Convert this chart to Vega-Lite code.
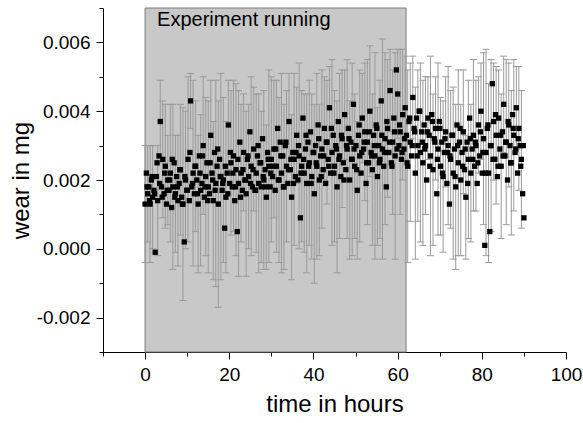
{
"$schema": "https://vega.github.io/schema/vega-lite/v6.json",
"width": 463, "height": 344,
"autosize": "none",
"padding": {"left": 103, "top": 8, "right": 17, "bottom": 71},
"background": "white",
"config": {"view": {"stroke": null}, "font": "Liberation Sans"},
"datasets": {
"band": [{"t": 0, "t2": 62, "w": -0.003, "w2": 0.007}],
"lab": [{"t": 2.85, "w": 0.00666, "label": "Experiment running"}],
"pts": [
{"t":0,"w":0.0013,"lo":-0.0004,"hi":0.003},{"t":0.3,"w":0.0022},{"t":0.6,"w":0.0016,"lo":0.0002,"hi":0.003},{"t":0.9,"w":0.0018},{"t":1.2,"w":0.0013,"lo":-0.0004,"hi":0.003},{"t":1.5,"w":0.002},{"t":1.8,"w":0.0015,"lo":0,"hi":0.003},{"t":2.1,"w":0.0017},{"t":2.4,"w":-0.0001},{"t":2.7,"w":0.0021},
{"t":3,"w":0.0014,"lo":-0.0002,"hi":0.003},{"t":3.3,"w":0.0027},{"t":3.6,"w":0.0037,"lo":0.0025,"hi":0.0049},{"t":3.9,"w":0.0018},{"t":4.2,"w":0.0026,"lo":0.0009,"hi":0.0043},{"t":4.5,"w":0.0016},{"t":4.8,"w":0.0024,"lo":0.0006,"hi":0.0042},{"t":5.1,"w":0.0013},{"t":5.4,"w":0.002,"lo":0.0007,"hi":0.0033},{"t":5.7,"w":0.0017},
{"t":6,"w":0.0022,"lo":0.0002,"hi":0.0042},{"t":6.3,"w":0.0012},{"t":6.6,"w":0.0018,"lo":-0.0006,"hi":0.0042},{"t":6.9,"w":0.0025},{"t":7.2,"w":0.0016,"lo":-0.0001,"hi":0.0033},{"t":7.5,"w":0.0021},{"t":7.8,"w":0.0014,"lo":-0.0005,"hi":0.0033},{"t":8.1,"w":0.0019},{"t":8.4,"w":0.0023,"lo":0.0004,"hi":0.0042},{"t":8.7,"w":0.0015},
{"t":9,"w":0.0013,"lo":-0.0015,"hi":0.0041},{"t":9.3,"w":0.0002},{"t":9.6,"w":0.002,"lo":0,"hi":0.004},{"t":9.9,"w":0.0017},{"t":10.2,"w":0.0026,"lo":0.0002,"hi":0.005},{"t":10.5,"w":0.0014},{"t":10.8,"w":0.0043,"lo":0.0035,"hi":0.0051},{"t":11.1,"w":0.0018},{"t":11.4,"w":0.0022,"lo":-0.0005,"hi":0.0049},{"t":11.7,"w":0.0016},
{"t":12,"w":0.0024,"lo":0.0005,"hi":0.0043},{"t":12.3,"w":0.002},{"t":12.6,"w":0.0013,"lo":-0.0007,"hi":0.0033},{"t":12.9,"w":0.0027},{"t":13.2,"w":0.0017,"lo":-0.0005,"hi":0.0039},{"t":13.5,"w":0.0019},{"t":13.8,"w":0.003,"lo":0.001,"hi":0.005},{"t":14.1,"w":0.0015},{"t":14.4,"w":0.0021,"lo":-0.0002,"hi":0.0044},{"t":14.7,"w":0.0025},
{"t":15,"w":0.0018,"lo":-0.0007,"hi":0.0043},{"t":15.3,"w":0.0016},{"t":15.6,"w":0.0033,"lo":0.0017,"hi":0.0049},{"t":15.9,"w":0.0022},{"t":16.2,"w":0.0014,"lo":-0.0009,"hi":0.0037},{"t":16.5,"w":0.0028},{"t":16.8,"w":0.0019,"lo":-0.0011,"hi":0.0049},{"t":17.1,"w":0.0024},{"t":17.4,"w":0.0013,"lo":-0.0017,"hi":0.0043},{"t":17.7,"w":0.0026},
{"t":18,"w":0.0021,"lo":-0.0009,"hi":0.0051},{"t":18.3,"w":0.0017},{"t":18.6,"w":0.002,"lo":-0.0004,"hi":0.0044},{"t":18.9,"w":0.0006},{"t":19.2,"w":0.0015,"lo":-0.0007,"hi":0.0037},{"t":19.5,"w":0.0022},{"t":19.8,"w":0.0036,"lo":0.0023,"hi":0.0049},{"t":20.1,"w":0.0019},{"t":20.4,"w":0.0025,"lo":0.0004,"hi":0.0046},{"t":20.7,"w":0.0018},
{"t":21,"w":0.0027,"lo":0.0005,"hi":0.0049},{"t":21.3,"w":0.0014},{"t":21.6,"w":0.0023,"lo":-0.0002,"hi":0.0048},{"t":21.9,"w":0.0005},{"t":22.2,"w":0.0019,"lo":-0.0008,"hi":0.0046},{"t":22.5,"w":0.0031},{"t":22.8,"w":0.0022,"lo":0.0002,"hi":0.0042},{"t":23.1,"w":0.0017},{"t":23.4,"w":0.0028,"lo":0.0011,"hi":0.0045},{"t":23.7,"w":0.002},
{"t":24,"w":0.0016,"lo":-0.0008,"hi":0.004},{"t":24.3,"w":0.0026},{"t":24.6,"w":0.0021,"lo":0,"hi":0.0042},{"t":24.9,"w":0.0034},{"t":25.2,"w":0.0024,"lo":-0.0002,"hi":0.005},{"t":25.5,"w":0.0018},{"t":25.8,"w":0.0029,"lo":0.0011,"hi":0.0047},{"t":26.1,"w":0.0017},{"t":26.4,"w":0.0022,"lo":-0.0001,"hi":0.0045},{"t":26.7,"w":0.0027},
{"t":27,"w":0.0019,"lo":-0.0007,"hi":0.0045},{"t":27.3,"w":0.0025},{"t":27.6,"w":0.0018,"lo":-0.0004,"hi":0.004},{"t":27.9,"w":0.0032},{"t":28.2,"w":0.002,"lo":-0.0006,"hi":0.0046},{"t":28.5,"w":0.0023},{"t":28.8,"w":0.0015,"lo":-0.0006,"hi":0.0036},{"t":29.1,"w":0.0028},{"t":29.4,"w":0.0024,"lo":-0.0004,"hi":0.0052},{"t":29.7,"w":0.0018},
{"t":30,"w":0.0026,"lo":0.0002,"hi":0.005},{"t":30.3,"w":0.0021},{"t":30.6,"w":0.0029,"lo":0.0009,"hi":0.0049},{"t":30.9,"w":0.0017},{"t":31.2,"w":0.0024,"lo":-0.0001,"hi":0.0049},{"t":31.5,"w":0.0035},{"t":31.8,"w":0.002,"lo":-0.0004,"hi":0.0044},{"t":32.1,"w":0.0031},{"t":32.4,"w":0.0022,"lo":-0.0007,"hi":0.0051},{"t":32.7,"w":0.0027},
{"t":33,"w":0.0018,"lo":-0.0006,"hi":0.0042},{"t":33.3,"w":0.003},{"t":33.6,"w":0.0024,"lo":0.0002,"hi":0.0046},{"t":33.9,"w":0.0019},{"t":34.2,"w":0.0037,"lo":0.0023,"hi":0.0051},{"t":34.5,"w":0.0023},{"t":34.8,"w":0.0015,"lo":-0.0009,"hi":0.0039},{"t":35.1,"w":0.0028},{"t":35.4,"w":0.0026,"lo":0.0001,"hi":0.0051},{"t":35.7,"w":0.0021},
{"t":36,"w":0.0033,"lo":0.0019,"hi":0.0047},{"t":36.3,"w":0.002},{"t":36.6,"w":0.0027,"lo":0,"hi":0.0054},{"t":36.9,"w":0.0009},{"t":37.2,"w":0.0024,"lo":0.0002,"hi":0.0046},{"t":37.5,"w":0.0038},{"t":37.8,"w":0.0022,"lo":-0.0001,"hi":0.0045},{"t":38.1,"w":0.0029},{"t":38.4,"w":0.0019,"lo":-0.0007,"hi":0.0045},{"t":38.7,"w":0.0031},
{"t":39,"w":0.0025,"lo":0.0001,"hi":0.0049},{"t":39.3,"w":0.0034},{"t":39.6,"w":0.0021,"lo":-0.0003,"hi":0.0045},{"t":39.9,"w":0.0028},{"t":40.2,"w":0.0016,"lo":-0.001,"hi":0.0042},{"t":40.5,"w":0.003},{"t":40.8,"w":0.0024,"lo":-0.0003,"hi":0.0051},{"t":41.1,"w":0.0036},{"t":41.4,"w":0.002,"lo":-0.0002,"hi":0.0042},{"t":41.7,"w":0.0027},
{"t":42,"w":0.0029,"lo":0.0006,"hi":0.0052},{"t":42.3,"w":0.0023},{"t":42.6,"w":0.0035,"lo":0.002,"hi":0.005},{"t":42.9,"w":0.0019},{"t":43.2,"w":0.0031,"lo":0.0013,"hi":0.0049},{"t":43.5,"w":0.0026},{"t":43.8,"w":0.0041,"lo":0.0029,"hi":0.0053},{"t":44.1,"w":0.0022},{"t":44.4,"w":0.0028,"lo":0.0001,"hi":0.0055},{"t":44.7,"w":0.0033},
{"t":45,"w":0.0024,"lo":0.0002,"hi":0.0046},{"t":45.3,"w":0.003},{"t":45.6,"w":0.0018,"lo":-0.0007,"hi":0.0043},{"t":45.9,"w":0.0037},{"t":46.2,"w":0.0027,"lo":0.0003,"hi":0.0051},{"t":46.5,"w":0.0021},{"t":46.8,"w":0.0032,"lo":0.0012,"hi":0.0052},{"t":47.1,"w":0.0025},{"t":47.4,"w":0.0039,"lo":0.0026,"hi":0.0052},{"t":47.7,"w":0.0023},
{"t":48,"w":0.0029,"lo":0.0003,"hi":0.0055},{"t":48.3,"w":0.0035},{"t":48.6,"w":0.002,"lo":-0.0003,"hi":0.0043},{"t":48.9,"w":0.0031},{"t":49.2,"w":0.0026,"lo":-0.0002,"hi":0.0054},{"t":49.5,"w":0.0042},{"t":49.8,"w":0.0024,"lo":0.0003,"hi":0.0045},{"t":50.1,"w":0.003},{"t":50.4,"w":0.0017,"lo":-0.0003,"hi":0.0037},{"t":50.7,"w":0.0033},
{"t":51,"w":0.0027,"lo":0.0002,"hi":0.0052},{"t":51.3,"w":0.0022},{"t":51.6,"w":0.0038,"lo":0.0025,"hi":0.0051},{"t":51.9,"w":0.0029},{"t":52.2,"w":0.0034,"lo":0.0014,"hi":0.0054},{"t":52.5,"w":0.0019},{"t":52.8,"w":0.0031,"lo":0.0007,"hi":0.0055},{"t":53.1,"w":0.0025},{"t":53.4,"w":0.004,"lo":0.0021,"hi":0.0059},{"t":53.7,"w":0.0028},
{"t":54,"w":0.0023,"lo":0.0001,"hi":0.0045},{"t":54.3,"w":0.0033},{"t":54.6,"w":0.0027,"lo":-0.0003,"hi":0.0057},{"t":54.9,"w":0.0036},{"t":55.2,"w":0.0021,"lo":0.0001,"hi":0.0041},{"t":55.5,"w":0.003},{"t":55.8,"w":0.0026,"lo":0.0003,"hi":0.0049},{"t":56.1,"w":0.0043},{"t":56.4,"w":0.0029,"lo":-0.0003,"hi":0.0061},{"t":56.7,"w":0.0024},
{"t":57,"w":0.0032,"lo":0.0007,"hi":0.0057},{"t":57.3,"w":0.0018},{"t":57.6,"w":0.0035,"lo":0.0015,"hi":0.0055},{"t":57.9,"w":0.0028},{"t":58.2,"w":0.0046,"lo":0.0034,"hi":0.0058},{"t":58.5,"w":0.0025},{"t":58.8,"w":0.0031,"lo":0.001,"hi":0.0052},{"t":59.1,"w":0.0038},{"t":59.4,"w":0.0027,"lo":-0.0003,"hi":0.0057},{"t":59.7,"w":0.0052},
{"t":60,"w":0.0045,"lo":0.0032,"hi":0.0058},{"t":60.3,"w":0.003},{"t":60.6,"w":0.0034,"lo":0.001,"hi":0.0058},{"t":60.9,"w":0.0026},{"t":61.2,"w":0.0039,"lo":0.002,"hi":0.0058},{"t":61.5,"w":0.0029},{"t":61.8,"w":0.0041,"lo":0.0026,"hi":0.0056},{"t":62.1,"w":0.0033},{"t":62.4,"w":0.0024,"lo":-0.0004,"hi":0.0052},{"t":62.7,"w":0.0037},
{"t":63,"w":0.0031,"lo":0.0008,"hi":0.0054},{"t":63.3,"w":0.0027},{"t":63.6,"w":0.0044,"lo":0.0032,"hi":0.0056},{"t":63.9,"w":0.0035},{"t":64.2,"w":0.0022,"lo":-0.0003,"hi":0.0047},{"t":64.5,"w":0.0038},{"t":64.8,"w":0.003,"lo":0.0008,"hi":0.0052},{"t":65.1,"w":0.004},{"t":65.4,"w":0.0028,"lo":0.0002,"hi":0.0054},{"t":65.7,"w":0.0034},
{"t":66,"w":0.0025,"lo":0.0001,"hi":0.0049},{"t":66.3,"w":0.0036},{"t":66.6,"w":0.003,"lo":0.001,"hi":0.005},{"t":66.9,"w":0.002},{"t":67.2,"w":0.0038,"lo":0.0026,"hi":0.005},{"t":67.5,"w":0.0033},{"t":67.8,"w":0.0027,"lo":-0.0002,"hi":0.0056},{"t":68.1,"w":0.0039},{"t":68.4,"w":0.0023,"lo":0.0001,"hi":0.0045},{"t":68.7,"w":0.0032},
{"t":69,"w":0.0035,"lo":0.002,"hi":0.005},{"t":69.3,"w":0.0016},{"t":69.6,"w":0.0029,"lo":0.0004,"hi":0.0054},{"t":69.9,"w":0.0037},{"t":70.2,"w":0.0024,"lo":0.0004,"hi":0.0044},{"t":70.5,"w":0.0031},{"t":70.8,"w":0.0021,"lo":-0.0001,"hi":0.0043},{"t":71.1,"w":0.0028},{"t":71.4,"w":0.0034,"lo":0.0018,"hi":0.005},{"t":71.7,"w":0.0019},
{"t":72,"w":0.003,"lo":0.0007,"hi":0.0053},{"t":72.3,"w":0.0013},{"t":72.6,"w":0.0026,"lo":0.0006,"hi":0.0046},{"t":72.9,"w":0.0033},{"t":73.2,"w":0.0022,"lo":-0.0003,"hi":0.0047},{"t":73.5,"w":0.0029},{"t":73.8,"w":0.0018,"lo":-0.0006,"hi":0.0042},{"t":74.1,"w":0.0036},{"t":74.4,"w":0.0025,"lo":-0.0002,"hi":0.0052},{"t":74.7,"w":0.0031},
{"t":75,"w":0.002,"lo":-0.0002,"hi":0.0042},{"t":75.3,"w":0.0028},{"t":75.6,"w":0.0034,"lo":0.0016,"hi":0.0052},{"t":75.9,"w":0.0023},{"t":76.2,"w":0.0015,"lo":-0.0003,"hi":0.0033},{"t":76.5,"w":0.0031},{"t":76.8,"w":0.0026,"lo":0.0003,"hi":0.0049},{"t":77.1,"w":0.0038},{"t":77.4,"w":0.0022,"lo":0.0002,"hi":0.0042},{"t":77.7,"w":0.0029},
{"t":78,"w":0.0033,"lo":0.0011,"hi":0.0055},{"t":78.3,"w":0.0024},{"t":78.6,"w":0.003,"lo":0.0011,"hi":0.0049},{"t":78.9,"w":0.0019},{"t":79.2,"w":0.0036,"lo":0.0022,"hi":0.005},{"t":79.5,"w":0.0027},{"t":79.8,"w":0.004,"lo":0.0026,"hi":0.0054},{"t":80.1,"w":0.0022},{"t":80.4,"w":0.0032,"lo":0.0007,"hi":0.0057},{"t":80.7,"w":0.0001},
{"t":81,"w":0.0028,"lo":-0.0002,"hi":0.0058},{"t":81.3,"w":0.0035},{"t":81.6,"w":0.0022,"lo":-0.0004,"hi":0.0048},{"t":81.9,"w":0.0005},{"t":82.2,"w":0.003,"lo":0.0005,"hi":0.0055},{"t":82.5,"w":0.0048},{"t":82.8,"w":0.0037,"lo":0.002,"hi":0.0054},{"t":83.1,"w":0.0026},{"t":83.4,"w":0.0033,"lo":0.0013,"hi":0.0053},{"t":83.7,"w":0.0021},
{"t":84,"w":0.0038,"lo":0.0024,"hi":0.0052},{"t":84.3,"w":0.0029},{"t":84.6,"w":0.0024,"lo":0.0003,"hi":0.0045},{"t":84.9,"w":0.0034},{"t":85.2,"w":0.0042,"lo":0.0028,"hi":0.0056},{"t":85.5,"w":0.0027},{"t":85.8,"w":0.0031,"lo":0.0007,"hi":0.0055},{"t":86.1,"w":0.002},{"t":86.4,"w":0.0036,"lo":0.0018,"hi":0.0054},{"t":86.7,"w":0.003},
{"t":87,"w":0.0025,"lo":0.0004,"hi":0.0046},{"t":87.3,"w":0.0039},{"t":87.6,"w":0.0033,"lo":0.0011,"hi":0.0055},{"t":87.9,"w":0.0028},{"t":88.2,"w":0.0041,"lo":0.0029,"hi":0.0053},{"t":88.5,"w":0.0022},{"t":88.8,"w":0.0035,"lo":0.0017,"hi":0.0053},{"t":89.1,"w":0.003},{"t":89.4,"w":0.0026,"lo":0.0006,"hi":0.0046},{"t":89.7,"w":0.0016},
{"t":90,"w":0.0009},
{"t":0.45,"w":0.0018},{"t":1.05,"w":0.0014},{"t":1.65,"w":0.0021},{"t":2.25,"w":0.0016},{"t":2.85,"w":0.0025},{"t":3.45,"w":0.0019},{"t":4.05,"w":0.0015},{"t":4.65,"w":0.0022},{"t":5.25,"w":0.0017},{"t":5.85,"w":0.002},
{"t":6.45,"w":0.0026},{"t":7.05,"w":0.0015},{"t":7.65,"w":0.0018},{"t":8.25,"w":0.0023},{"t":8.85,"w":0.0013},{"t":9.45,"w":0.0021},{"t":10.05,"w":0.0017},{"t":10.65,"w":0.0028},{"t":11.25,"w":0.0019},{"t":11.85,"w":0.0024},
{"t":12.45,"w":0.0016},{"t":13.05,"w":0.0022},{"t":13.65,"w":0.0027},{"t":14.25,"w":0.0018},{"t":14.85,"w":0.0014},{"t":15.45,"w":0.0025},{"t":16.05,"w":0.002},{"t":16.65,"w":0.0017},{"t":17.25,"w":0.0029},{"t":17.85,"w":0.0021},
{"t":18.45,"w":0.0019},{"t":19.05,"w":0.0024},{"t":19.65,"w":0.0016},{"t":20.25,"w":0.0028},{"t":20.85,"w":0.0022},{"t":21.45,"w":0.0018},{"t":22.05,"w":0.0026},{"t":22.65,"w":0.0015},{"t":23.25,"w":0.0023},{"t":23.85,"w":0.002},
{"t":24.45,"w":0.0027},{"t":25.05,"w":0.0019},{"t":25.65,"w":0.0023},{"t":26.25,"w":0.0017},{"t":26.85,"w":0.003},{"t":27.45,"w":0.0025},{"t":28.05,"w":0.0021},{"t":28.65,"w":0.0018},{"t":29.25,"w":0.0026},{"t":29.85,"w":0.0022},
{"t":30.45,"w":0.0024},{"t":31.05,"w":0.0029},{"t":31.65,"w":0.002},{"t":32.25,"w":0.0027},{"t":32.85,"w":0.0018},{"t":33.45,"w":0.0031},{"t":34.05,"w":0.0023},{"t":34.65,"w":0.0026},{"t":35.25,"w":0.0019},{"t":35.85,"w":0.0028},
{"t":36.45,"w":0.003},{"t":37.05,"w":0.0022},{"t":37.65,"w":0.0026},{"t":38.25,"w":0.0033},{"t":38.85,"w":0.0024},{"t":39.45,"w":0.0019},{"t":40.05,"w":0.0028},{"t":40.65,"w":0.0025},{"t":41.25,"w":0.0032},{"t":41.85,"w":0.0021},
{"t":42.45,"w":0.0027},{"t":43.05,"w":0.0031},{"t":43.65,"w":0.0024},{"t":44.25,"w":0.0035},{"t":44.85,"w":0.0022},{"t":45.45,"w":0.0029},{"t":46.05,"w":0.0026},{"t":46.65,"w":0.0033},{"t":47.25,"w":0.002},{"t":47.85,"w":0.003},
{"t":48.45,"w":0.0032},{"t":49.05,"w":0.0026},{"t":49.65,"w":0.0029},{"t":50.25,"w":0.0023},{"t":50.85,"w":0.0036},{"t":51.45,"w":0.0028},{"t":52.05,"w":0.0031},{"t":52.65,"w":0.0025},{"t":53.25,"w":0.0034},{"t":53.85,"w":0.0027},
{"t":54.45,"w":0.003},{"t":55.05,"w":0.0035},{"t":55.65,"w":0.0025},{"t":56.25,"w":0.0033},{"t":56.85,"w":0.0028},{"t":57.45,"w":0.0037},{"t":58.05,"w":0.0031},{"t":58.65,"w":0.0024},{"t":59.25,"w":0.0034},{"t":59.85,"w":0.0029},
{"t":60.45,"w":0.0036},{"t":61.05,"w":0.0028},{"t":61.65,"w":0.0032},{"t":62.25,"w":0.0025},{"t":62.85,"w":0.0038},{"t":63.45,"w":0.003},{"t":64.05,"w":0.0034},{"t":64.65,"w":0.0027},{"t":65.25,"w":0.004},{"t":65.85,"w":0.0031},
{"t":66.45,"w":0.0029},{"t":67.05,"w":0.0034},{"t":67.65,"w":0.0024},{"t":68.25,"w":0.0037},{"t":68.85,"w":0.0031},{"t":69.45,"w":0.0026},{"t":70.05,"w":0.0035},{"t":70.65,"w":0.0022},{"t":71.25,"w":0.0032},{"t":71.85,"w":0.0028},
{"t":72.45,"w":0.0027},{"t":73.05,"w":0.0033},{"t":73.65,"w":0.0021},{"t":74.25,"w":0.003},{"t":74.85,"w":0.0035},{"t":75.45,"w":0.0024},{"t":76.05,"w":0.0029},{"t":76.65,"w":0.0019},{"t":77.25,"w":0.0032},{"t":77.85,"w":0.0026},
{"t":78.45,"w":0.0031},{"t":79.05,"w":0.0025},{"t":79.65,"w":0.0034},{"t":80.25,"w":0.0028},{"t":80.85,"w":0.0022},{"t":81.45,"w":0.0036},{"t":82.05,"w":0.003},{"t":82.65,"w":0.0026},{"t":83.25,"w":0.0039},{"t":83.85,"w":0.0024},
{"t":84.45,"w":0.0033},{"t":85.05,"w":0.0027},{"t":85.65,"w":0.0031},{"t":86.25,"w":0.0037},{"t":86.85,"w":0.0025},{"t":87.45,"w":0.0035},{"t":88.05,"w":0.0029},{"t":88.65,"w":0.0032},{"t":89.25,"w":0.0024},{"t":89.85,"w":0.003}
]
},
"layer": [
{"data": {"name": "band"},
 "mark": {"type": "rect", "fill": "#c8c8c8", "stroke": "#7a7a7a", "strokeWidth": 1},
 "encoding": {
  "x": {"field": "t", "type": "quantitative", "scale": {"domain": [-10, 100], "nice": false, "zero": false}, "title": "time in hours",
   "axis": {"values": [-10,0,10,20,30,40,50,60,70,80,90,100], "tickCount": 30, "labelExpr": "datum.value % 20 === 0 ? datum.label : ''",
    "tickSize": {"condition": {"test": "datum.value % 20 !== 0", "value": 4}, "value": 7},
    "grid": false, "domainColor": "black", "tickColor": "black", "labelColor": "black", "labelFontSize": 19, "labelFont": "Liberation Sans", "labelPadding": 6, "labelFlush": false, "labelOverlap": false,
    "titleFontSize": 24, "titleFont": "Liberation Sans", "titleFontWeight": "normal", "titleColor": "black", "titlePadding": 8}},
  "x2": {"field": "t2"},
  "y": {"field": "w", "type": "quantitative", "scale": {"domain": [-0.003, 0.007], "nice": false, "zero": false}, "title": "wear in mg",
   "axis": {"values": [-0.003,-0.002,-0.001,0,0.001,0.002,0.003,0.004,0.005,0.006,0.007], "tickCount": 30, "format": ".3f",
    "labelExpr": "indexof(['0.000','0.002','0.004','0.006','-0.002','\u22120.002'], datum.label) >= 0 ? replace(datum.label, '\u2212', '-') : ''",
    "tickSize": {"condition": {"test": "abs(datum.value - 0.001) < 0.00001 || abs(datum.value - 0.003) < 0.00001 || abs(datum.value - 0.005) < 0.00001 || abs(datum.value - 0.007) < 0.00001 || abs(datum.value + 0.001) < 0.00001 || abs(datum.value + 0.003) < 0.00001", "value": 4}, "value": 7},
    "grid": false, "domainColor": "black", "tickColor": "black", "labelColor": "black", "labelFontSize": 19, "labelFont": "Liberation Sans", "labelPadding": 6, "labelFlush": false, "labelOverlap": false,
    "titleFontSize": 24, "titleFont": "Liberation Sans", "titleFontWeight": "normal", "titleColor": "black", "titlePadding": 3}},
  "y2": {"field": "w2"}
 }},
{"data": {"name": "lab"},
 "mark": {"type": "text", "align": "left", "baseline": "middle", "fontSize": 20, "font": "Liberation Sans", "color": "black"},
 "encoding": {
  "x": {"field": "t", "type": "quantitative", "title": "time in hours"},
  "y": {"field": "w", "type": "quantitative", "title": "wear in mg"},
  "text": {"field": "label"}
 }},
{"data": {"name": "pts"},
 "transform": [{"filter": "isValid(datum.lo)"}],
 "mark": {"type": "rule", "color": "#999999", "strokeWidth": 1},
 "encoding": {
  "x": {"field": "t", "type": "quantitative", "title": "time in hours"},
  "y": {"field": "lo", "type": "quantitative", "title": "wear in mg"},
  "y2": {"field": "hi"}
 }},
{"data": {"name": "pts"},
 "transform": [{"filter": "isValid(datum.lo)"}],
 "mark": {"type": "tick", "orient": "horizontal", "size": 7, "thickness": 1, "color": "#999999", "opacity": 1},
 "encoding": {
  "x": {"field": "t", "type": "quantitative", "title": "time in hours"},
  "y": {"field": "lo", "type": "quantitative", "title": "wear in mg"}
 }},
{"data": {"name": "pts"},
 "transform": [{"filter": "isValid(datum.hi)"}],
 "mark": {"type": "tick", "orient": "horizontal", "size": 7, "thickness": 1, "color": "#999999", "opacity": 1},
 "encoding": {
  "x": {"field": "t", "type": "quantitative", "title": "time in hours"},
  "y": {"field": "hi", "type": "quantitative", "title": "wear in mg"}
 }},
{"data": {"name": "pts"},
 "mark": {"type": "square", "size": 28, "color": "black", "opacity": 1},
 "encoding": {
  "x": {"field": "t", "type": "quantitative", "title": "time in hours"},
  "y": {"field": "w", "type": "quantitative", "title": "wear in mg"}
 }}
]
}
